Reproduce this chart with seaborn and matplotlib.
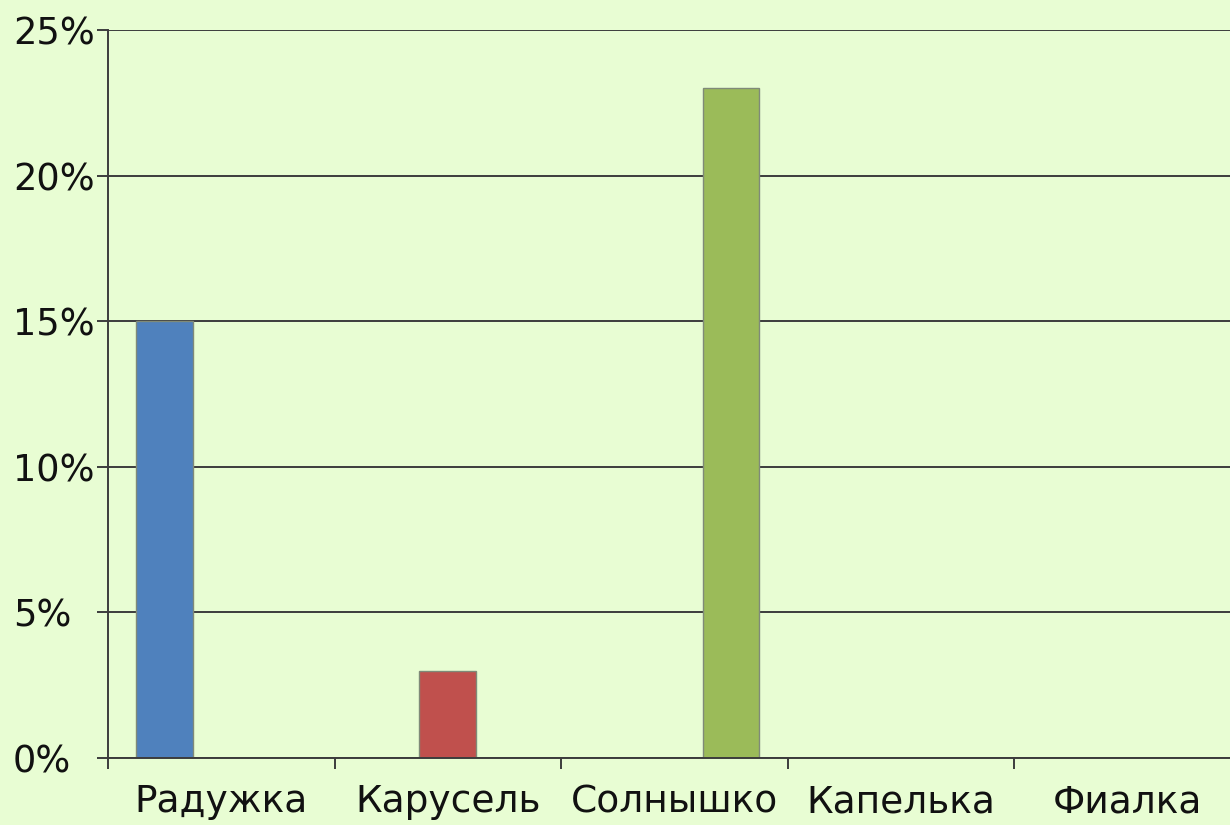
import matplotlib
matplotlib.use("Agg")
import matplotlib.pyplot as plt
import seaborn as sns
import pandas as pd
import numpy as np
from matplotlib.ticker import FixedLocator, FuncFormatter

categories = ["Радужка", "Карусель", "Солнышко", "Капелька", "Фиалка"]
series = ["Радужка", "Карусель", "Солнышко"]
values = [15, 3, 23]
colors = ["#4F81BD", "#C0504D", "#9BBB59"]
yticks = [0, 5, 10, 15, 20, 25]

df = pd.DataFrame({"category": series, "series": series, "value": values})

bg = "#E8FDD3"
sns.set_style("white")
plt.rcParams["font.family"] = ["DejaVu Sans"]

fig = plt.figure(figsize=(12.3, 8.25), dpi=100, facecolor=bg)
ax = fig.add_axes([108 / 1230, 1 - 758 / 825, 1132.5 / 1230, 728 / 825])
ax.set_facecolor(bg)

sns.barplot(data=df, x="category", y="value", hue="series", order=categories,
            hue_order=series, palette=colors, width=0.75, gap=0, dodge=True,
            saturation=1, edgecolor="#7f8a78", linewidth=1.0, legend=False,
            ax=ax, zorder=3)

ax.set_xlim(-0.5, len(categories) - 0.5)
ax.set_ylim(0, 25)
ax.yaxis.set_major_locator(FixedLocator(yticks))
ax.yaxis.set_major_formatter(FuncFormatter(lambda v, p: f"{int(v)}%"))
ax.grid(axis="y", color="#3c3c3c", linewidth=1.4, zorder=1)
ax.set_axisbelow(True)

ax.set_xticks(range(len(categories)))
ax.set_xticklabels(categories)
ax.set_xticks(np.arange(-0.5, len(categories) - 0.4, 1), minor=True)
ax.tick_params(axis="x", which="major", bottom=True, length=0, pad=19,
               labelsize=27, labelcolor="#111111")
ax.tick_params(axis="x", which="minor", bottom=True, length=8, width=1.4,
               color="#3c3c3c", direction="out")
ax.tick_params(axis="y", which="major", left=True, length=8, width=1.4,
               color="#3c3c3c", direction="out", pad=60.5, labelsize=26.5,
               labelcolor="#111111")
for lbl in ax.get_yticklabels():
    lbl.set_horizontalalignment("left")

for s in ["top", "right"]:
    ax.spines[s].set_visible(False)
for s in ["left", "bottom"]:
    ax.spines[s].set_color("#3c3c3c")
    ax.spines[s].set_linewidth(1.4)
    ax.spines[s].set_zorder(4)

ax.set_xlabel("")
ax.set_ylabel("")

fig.savefig("out.png", dpi=100, facecolor=bg)
